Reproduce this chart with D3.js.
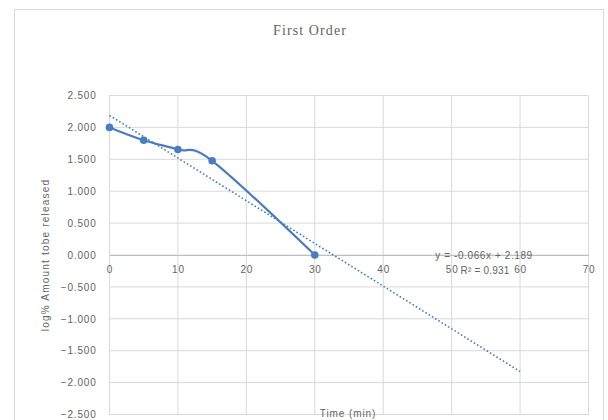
<!DOCTYPE html>
<html>
<head>
<meta charset="utf-8">
<script src="https://cdn.jsdelivr.net/npm/d3@7"></script>
<style>
  html, body { margin: 0; padding: 0; background: #fff; }
  svg { display: block; }
</style>
</head>
<body>
<svg id="chart" width="608" height="420"></svg>
<script>
// Release data: time (min) against log % amount remaining to be released
const timeMin = [0, 5, 10, 15, 30];
const logAmount = [2.000, 1.799, 1.653, 1.477, 0.000];
const xTicks = [0, 10, 20, 30, 40, 50, 60, 70];
const yTicks = [2.5, 2.0, 1.5, 1.0, 0.5, 0.0, -0.5, -1.0, -1.5, -2.0, -2.5];
const trendRange = [0, 60];
const equationText = "y = -0.066x + 2.189";
const r2Text = "R² = 0.931";

const svg = d3.select("#chart");
const textColor = "#646464";
const gridColor = "#d9d9d9";
const seriesColor = "#4a7dbf";
const font = "'Liberation Sans', Arial, sans-serif";

// Chart frame
svg.append("rect")
  .attr("x", 14.5).attr("y", 9.5)
  .attr("width", 589).attr("height", 420)
  .attr("fill", "#fff").attr("stroke", "#d9d9d9");

const x = d3.scaleLinear().domain([0, 70]).range([109.5, 588.5]);
const y = d3.scaleLinear().domain([-2.5, 2.5]).range([414.5, 95.5]);

// Gridlines
svg.append("g").selectAll("line").data(yTicks).join("line")
  .attr("x1", x(0)).attr("x2", x(70))
  .attr("y1", d => y(d)).attr("y2", d => y(d))
  .attr("stroke", gridColor).attr("stroke-width", 1);
svg.append("g").selectAll("line").data(xTicks).join("line")
  .attr("y1", y(2.5)).attr("y2", y(-2.5))
  .attr("x1", d => x(d)).attr("x2", d => x(d))
  .attr("stroke", gridColor).attr("stroke-width", 1);

// Y axis labels
const yAxis = d3.axisLeft(y).tickValues(yTicks).tickSize(0).tickPadding(13)
  .tickFormat(d3.format(".3f"));
const gy = svg.append("g").attr("transform", `translate(${x(0)},0)`).call(yAxis);
gy.select(".domain").remove();
gy.selectAll("text").attr("fill", textColor).attr("font-size", 10)
  .attr("font-family", font).attr("letter-spacing", 0.8);

// X axis labels sit just under the zero line
const xAxis = d3.axisBottom(x).tickValues(xTicks).tickSize(0).tickPadding(11)
  .tickFormat(d3.format("d"));
const gx = svg.append("g").attr("transform", `translate(0,${y(0)})`).call(xAxis);
gx.select(".domain").attr("stroke", "#bfbfbf");
gx.selectAll("text").attr("fill", textColor).attr("font-size", 10)
  .attr("font-family", font).attr("letter-spacing", 0.8);

// Linear least-squares trendline
const n = timeMin.length;
const mx = d3.mean(timeMin), my = d3.mean(logAmount);
let sxy = 0, sxx = 0;
for (let i = 0; i < n; i++) {
  sxy += (timeMin[i] - mx) * (logAmount[i] - my);
  sxx += (timeMin[i] - mx) ** 2;
}
const slope = sxy / sxx;
const intercept = my - slope * mx;
svg.append("line")
  .attr("x1", x(trendRange[0])).attr("y1", y(intercept + slope * trendRange[0]))
  .attr("x2", x(trendRange[1])).attr("y2", y(intercept + slope * trendRange[1]))
  .attr("stroke", seriesColor).attr("stroke-width", 1.6)
  .attr("stroke-dasharray", "1.6,2.2");

// Smoothed data line
const pts = timeMin.map((t, i) => [t, logAmount[i]]);
const line = d3.line().x(d => x(d[0])).y(d => y(d[1])).curve(d3.curveCatmullRom.alpha(0));
svg.append("path").datum(pts)
  .attr("d", line).attr("fill", "none")
  .attr("stroke", seriesColor).attr("stroke-width", 2.2);
svg.append("g").selectAll("circle").data(pts).join("circle")
  .attr("cx", d => x(d[0])).attr("cy", d => y(d[1])).attr("r", 3.8)
  .attr("fill", seriesColor);

// Trendline equation
svg.append("text").attr("x", 484).attr("y", 258.5).attr("text-anchor", "middle")
  .attr("fill", textColor).attr("font-size", 10).attr("font-family", font)
  .attr("letter-spacing", 0.6)
  .text(equationText);
svg.append("text").attr("x", 485).attr("y", 273.5).attr("text-anchor", "middle")
  .attr("fill", textColor).attr("font-size", 10).attr("font-family", font)
  .attr("letter-spacing", 0.2)
  .text(r2Text);

// Titles
svg.append("text").attr("x", 310).attr("y", 35).attr("text-anchor", "middle")
  .attr("fill", textColor).attr("font-size", 14)
  .attr("font-family", "'Liberation Serif', 'DejaVu Serif', serif")
  .attr("letter-spacing", 1.1)
  .text("First Order");
svg.append("text").attr("x", 348).attr("y", 417).attr("text-anchor", "middle")
  .attr("fill", textColor).attr("font-size", 10).attr("font-family", font)
  .attr("letter-spacing", 0.9)
  .text("Time (min)");
svg.append("text")
  .attr("transform", "translate(49,255) rotate(-90)")
  .attr("text-anchor", "middle")
  .attr("fill", textColor).attr("font-size", 10).attr("font-family", font)
  .attr("letter-spacing", 1.2)
  .text("log% Amount tobe released");
</script>
</body>
</html>
